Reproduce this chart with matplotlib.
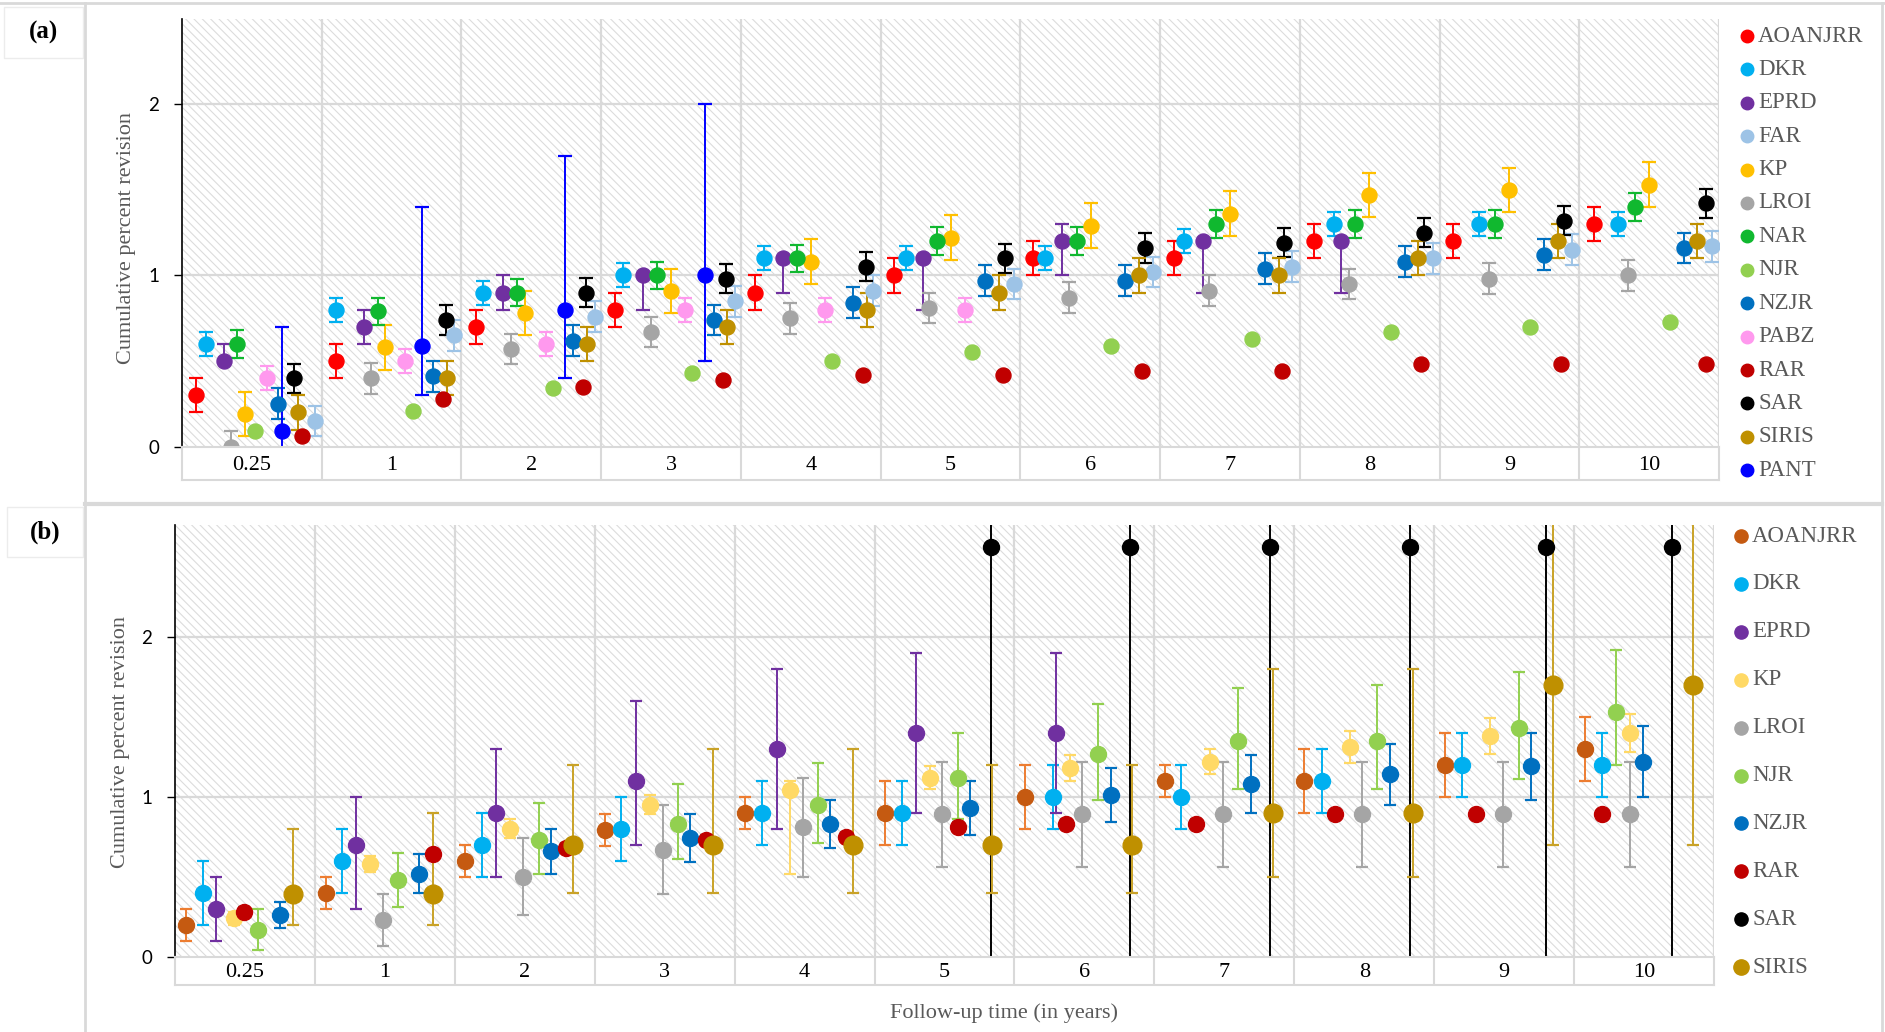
import matplotlib.pyplot as plt
from matplotlib.lines import Line2D
from matplotlib.patches import Rectangle

plt.rcParams['hatch.linewidth'] = 0.8

W, H = 1885, 1032
SERIF = 'Liberation Serif'
SANS = 'Lato'

years = ['0.25', '1', '2', '3', '4', '5', '6', '7', '8', '9', '10']

# ---------------- panel (a) ----------------
a_names = ['AOANJRR', 'DKR', 'EPRD', 'FAR', 'KP', 'LROI', 'NAR', 'NJR',
           'NZJR', 'PABZ', 'RAR', 'SAR', 'SIRIS', 'PANT']
a_colors = ['#FF0000', '#00B0F0', '#7030A0', '#9DC3E6', '#FFC000', '#A5A5A5',
            '#10B82F', '#92D050', '#0070C0', '#FF99EE', '#C00000', '#000000',
            '#BF9000', '#0000FF']

# position of each registry inside its year group (0 = left edge, 1 = right edge)
a_off = [
    [.097, .100, .107, .101, .101, .098, .093, .096, .101, .097, .104],
    [.173, .103, .153, .155, .166, .178, .178, .170, .248, .279, .278],
    [.301, .302, .297, .300, .300, .300, .297, .304, .296, None, None],
    [.953, .950, .953, .957, .948, .955, .952, .946, .950, .947, .948],
    [.449, .452, .452, .500, .500, .500, .505, .498, .496, .498, .500],
    [.353, .350, .356, .354, .351, .348, .348, .352, .349, .351, .347],
    [.391, .400, .400, .396, .400, .402, .403, .399, .397, .397, .400],
    [.525, .653, .653, .650, .651, .651, .652, .655, .649, .650, .647],
    [.685, .797, .797, .804, .804, .747, .748, .750, .750, .746, .746],
    [.605, .596, .607, .603, .603, .603, None, None, None, None, None],
    [.858, .871, .868, .871, .875, .875, .872, .872, .870, .867, .905],
    [.800, .887, .893, .894, .894, .891, .891, .888, .889, .888, .905],
    [.832, .900, .900, .900, .900, .849, .850, .850, .849, .845, .846],
    [.717, .718, .743, .740, None, None, None, None, None, None, None],
]
a_val = [
    [0.30, 0.50, 0.70, 0.80, 0.90, 1.00, 1.10, 1.10, 1.20, 1.20, 1.30],
    [0.60, 0.80, 0.90, 1.00, 1.10, 1.10, 1.10, 1.20, 1.30, 1.30, 1.30],
    [0.50, 0.70, 0.90, 1.00, 1.10, 1.10, 1.20, 1.20, 1.20, None, None],
    [0.15, 0.65, 0.76, 0.85, 0.91, 0.95, 1.02, 1.05, 1.10, 1.15, 1.17],
    [0.19, 0.58, 0.78, 0.91, 1.08, 1.22, 1.29, 1.36, 1.47, 1.50, 1.53],
    [0.00, 0.40, 0.57, 0.67, 0.75, 0.81, 0.87, 0.91, 0.95, 0.98, 1.00],
    [0.60, 0.79, 0.90, 1.00, 1.10, 1.20, 1.20, 1.30, 1.30, 1.30, 1.40],
    [0.09, 0.21, 0.34, 0.43, 0.50, 0.55, 0.59, 0.63, 0.67, 0.70, 0.73],
    [0.25, 0.41, 0.62, 0.74, 0.84, 0.97, 0.97, 1.04, 1.08, 1.12, 1.16],
    [0.40, 0.50, 0.60, 0.80, 0.80, 0.80, None, None, None, None, None],
    [0.06, 0.28, 0.35, 0.39, 0.42, 0.42, 0.44, 0.44, 0.48, 0.48, 0.48],
    [0.40, 0.74, 0.90, 0.98, 1.05, 1.10, 1.16, 1.19, 1.25, 1.32, 1.42],
    [0.20, 0.40, 0.60, 0.70, 0.80, 0.90, 1.00, 1.00, 1.10, 1.20, 1.20],
    [0.09, 0.59, 0.80, 1.00, None, None, None, None, None, None, None],
]
a_lo = [
    [0.10, 0.10, 0.10, 0.10, 0.10, 0.10, 0.10, 0.10, 0.10, 0.10, 0.10],
    [0.07, 0.07, 0.07, 0.07, 0.07, 0.07, 0.07, 0.07, 0.07, 0.07, 0.07],
    [0.00, 0.10, 0.10, 0.20, 0.20, 0.30, 0.20, 0.30, 0.30, None, None],
    [0.09, 0.09, 0.09, 0.09, 0.09, 0.09, 0.09, 0.09, 0.09, 0.09, 0.09],
    [0.13, 0.13, 0.13, 0.13, 0.13, 0.13, 0.13, 0.13, 0.13, 0.13, 0.13],
    [0.09, 0.09, 0.09, 0.09, 0.09, 0.09, 0.09, 0.09, 0.09, 0.09, 0.09],
    [0.08, 0.08, 0.08, 0.08, 0.08, 0.08, 0.08, 0.08, 0.08, 0.08, 0.08],
    [0, 0, 0, 0, 0, 0, 0, 0, 0, 0, 0],
    [0.09, 0.09, 0.09, 0.09, 0.09, 0.09, 0.09, 0.09, 0.09, 0.09, 0.09],
    [0.07, 0.07, 0.07, 0.07, 0.07, 0.07, None, None, None, None, None],
    [0, 0, 0, 0, 0, 0, 0, 0, 0, 0, 0],
    [0.085, 0.085, 0.085, 0.085, 0.085, 0.085, 0.085, 0.085, 0.085, 0.085, 0.085],
    [0.10, 0.10, 0.10, 0.10, 0.10, 0.10, 0.10, 0.10, 0.10, 0.10, 0.10],
    [0.60, 0.29, 0.40, 0.50, None, None, None, None, None, None, None],
]
a_hi = [
    [0.10, 0.10, 0.10, 0.10, 0.10, 0.10, 0.10, 0.10, 0.10, 0.10, 0.10],
    [0.07, 0.07, 0.07, 0.07, 0.07, 0.07, 0.07, 0.07, 0.07, 0.07, 0.07],
    [0.10, 0.10, 0.10, 0.00, 0.00, 0.00, 0.10, 0.00, 0.00, None, None],
    [0.09, 0.09, 0.09, 0.09, 0.09, 0.09, 0.09, 0.09, 0.09, 0.09, 0.09],
    [0.13, 0.13, 0.13, 0.13, 0.13, 0.13, 0.13, 0.13, 0.13, 0.13, 0.13],
    [0.09, 0.09, 0.09, 0.09, 0.09, 0.09, 0.09, 0.09, 0.09, 0.09, 0.09],
    [0.08, 0.08, 0.08, 0.08, 0.08, 0.08, 0.08, 0.08, 0.08, 0.08, 0.08],
    [0, 0, 0, 0, 0, 0, 0, 0, 0, 0, 0],
    [0.09, 0.09, 0.09, 0.09, 0.09, 0.09, 0.09, 0.09, 0.09, 0.09, 0.09],
    [0.07, 0.07, 0.07, 0.07, 0.07, 0.07, None, None, None, None, None],
    [0, 0, 0, 0, 0, 0, 0, 0, 0, 0, 0],
    [0.085, 0.085, 0.085, 0.085, 0.085, 0.085, 0.085, 0.085, 0.085, 0.085, 0.085],
    [0.10, 0.10, 0.10, 0.10, 0.10, 0.10, 0.10, 0.10, 0.10, 0.10, 0.10],
    [0.61, 0.81, 0.90, 1.00, None, None, None, None, None, None, None],
]

# ---------------- panel (b) ----------------
b_names = ['AOANJRR', 'DKR', 'EPRD', 'KP', 'LROI', 'NJR', 'NZJR', 'RAR', 'SAR', 'SIRIS']
b_colors = ['#C55A11', '#00B0F0', '#7030A0', '#FFD966', '#A5A5A5', '#92D050',
            '#0070C0', '#C00000', '#000000', '#BF9000']
b_bar_colors = ['#ED7D31', '#00B0F0', '#7030A0', '#FFD966', '#A5A5A5', '#92D050',
                '#0070C0', '#7F7F7F', '#000000', '#C9A227']

b_off = [
    [.080, .082, .074, .070, .073, .074, .078, .076, .073, .075, .077],
    [.197, .196, .195, .191, .198, .195, .279, .193, .195, .200, .198],
    [.296, .295, .291, .293, .303, .297, .295, None, None, None, None],
    [.423, .394, .393, .395, .398, .396, .397, .401, .398, .396, .398],
    [None, .486, .488, .490, .487, .485, .486, .490, .487, .489, .398],
    [.595, .594, .599, .595, .593, .594, .598, .601, .594, .604, .299],
    [.748, .744, .688, .681, .685, .683, .687, .691, .687, .690, .492],
    [.493, .845, .793, .793, .797, .594, .365, .299, .291, .297, .198],
    [None, None, None, None, None, .830, .827, .825, .826, .797, .698],
    [.846, .845, .848, .847, .845, .842, .843, .847, .848, .850, .853],
]
b_val = [
    [0.20, 0.40, 0.60, 0.79, 0.90, 0.90, 1.00, 1.10, 1.10, 1.20, 1.30],
    [0.40, 0.60, 0.70, 0.80, 0.90, 0.90, 1.00, 1.00, 1.10, 1.20, 1.20],
    [0.30, 0.70, 0.90, 1.10, 1.30, 1.40, 1.40, None, None, None, None],
    [0.24, 0.58, 0.80, 0.95, 1.04, 1.12, 1.18, 1.22, 1.31, 1.38, 1.40],
    [None, 0.23, 0.50, 0.67, 0.81, 0.89, 0.89, 0.89, 0.89, 0.89, 0.89],
    [0.17, 0.48, 0.73, 0.83, 0.95, 1.12, 1.27, 1.35, 1.35, 1.43, 1.53],
    [0.26, 0.52, 0.66, 0.74, 0.83, 0.93, 1.01, 1.08, 1.14, 1.19, 1.22],
    [0.28, 0.64, 0.68, 0.73, 0.75, 0.81, 0.83, 0.83, 0.89, 0.89, 0.89],
    [None, None, None, None, None, 2.56, 2.56, 2.56, 2.56, 2.56, 2.56],
    [0.39, 0.39, 0.70, 0.70, 0.70, 0.70, 0.70, 0.90, 0.90, 1.70, 1.70],
]
b_lo = [
    [0.10, 0.10, 0.10, 0.10, 0.10, 0.20, 0.20, 0.10, 0.20, 0.20, 0.20],
    [0.20, 0.20, 0.20, 0.20, 0.20, 0.20, 0.20, 0.20, 0.20, 0.20, 0.20],
    [0.20, 0.40, 0.40, 0.40, 0.50, 0.50, 0.50, None, None, None, None],
    [0.04, 0.05, 0.06, 0.06, 0.52, 0.07, 0.08, 0.08, 0.10, 0.11, 0.12],
    [None, 0.16, 0.24, 0.28, 0.31, 0.33, 0.33, 0.33, 0.33, 0.33, 0.33],
    [0.13, 0.17, 0.21, 0.22, 0.24, 0.26, 0.29, 0.30, 0.30, 0.32, 0.33],
    [0.08, 0.12, 0.14, 0.15, 0.15, 0.17, 0.17, 0.18, 0.19, 0.21, 0.22],
    [0.03, 0.03, 0.03, 0.03, 0.03, 0.03, 0.03, 0.03, 0.03, 0.03, 0.03],
    [None, None, None, None, None, 2.70, 2.70, 2.70, 2.70, 2.70, 2.70],
    [0.19, 0.19, 0.30, 0.30, 0.30, 0.30, 0.30, 0.40, 0.40, 1.00, 1.00],
]
b_hi = [
    [0.10, 0.10, 0.10, 0.10, 0.10, 0.20, 0.20, 0.10, 0.20, 0.20, 0.20],
    [0.20, 0.20, 0.20, 0.20, 0.20, 0.20, 0.20, 0.20, 0.20, 0.20, 0.20],
    [0.20, 0.30, 0.40, 0.50, 0.50, 0.50, 0.50, None, None, None, None],
    [0.04, 0.05, 0.06, 0.06, 0.06, 0.07, 0.08, 0.08, 0.10, 0.11, 0.12],
    [None, 0.16, 0.24, 0.28, 0.31, 0.33, 0.33, 0.33, 0.33, 0.33, 0.33],
    [0.13, 0.17, 0.23, 0.25, 0.26, 0.28, 0.31, 0.33, 0.35, 0.35, 0.39],
    [0.08, 0.12, 0.14, 0.15, 0.15, 0.17, 0.17, 0.18, 0.19, 0.21, 0.22],
    [0.03, 0.03, 0.03, 0.03, 0.03, 0.03, 0.03, 0.03, 0.03, 0.03, 0.03],
    [None, None, None, None, None, 0.40, 0.40, 0.40, 0.40, 0.40, 0.40],
    [0.41, 0.51, 0.50, 0.60, 0.60, 0.50, 0.50, 0.90, 0.90, 1.20, 1.20],
]

GRID = '#d9d9d9'


def fx(x):
    return x / W


def fy(y):
    return 1 - y / H


def draw_series(ax, offs, vals, lo, hi, color, bar_color, ms, cap):
    xs, ys = [], []
    for g, (o, v) in enumerate(zip(offs, vals)):
        if v is None:
            continue
        x = g + o
        xs.append(x)
        ys.append(v)
        l, h = lo[g], hi[g]
        if l or h:
            ax.vlines(x, v - l, v + h, color=bar_color, lw=1.4, zorder=3)
            ends = ([v - l] if l else []) + ([v + h] if h else [])
            ax.plot([x] * len(ends), ends, ls='none', marker='_', ms=cap,
                    mew=1.6, color=bar_color, zorder=3)
    ax.plot(xs, ys, ls='none', marker='o', ms=ms, color=color, zorder=4)


def setup_axes(ax, band, ymax):
    ax.set_xlim(0, 11)
    ax.set_ylim(0, ymax)
    # light diagonal texture behind the plot area
    ax.add_patch(Rectangle((0, 0), 1, 1, transform=ax.transAxes, facecolor='white',
                           edgecolor='#dcdcdc', hatch='\\\\\\\\', lw=0, zorder=0))
    for s in ['top', 'right', 'bottom']:
        ax.spines[s].set_visible(False)
    ax.spines['left'].set_color('black')
    ax.spines['left'].set_linewidth(1.2)
    ax.spines['left'].set_zorder(5)
    ax.set_xticks([])
    ax.set_yticks([0, 1, 2])
    ax.tick_params(axis='y', direction='out', length=5.5, width=1, pad=11,
                   labelsize=13.5, colors='black')
    for lab in ax.get_yticklabels():
        lab.set_family(SANS)
    for y in [1, 2]:
        ax.axhline(y, color=GRID, lw=1.6, zorder=1)
    for g in range(1, 12):
        ax.axvline(g, color=GRID, lw=1.6, zorder=1)

    band.set_xlim(0, 11)
    band.set_ylim(0, 1)
    band.set_xticks([])
    band.set_yticks([])
    for s in band.spines.values():
        s.set_color(GRID)
        s.set_linewidth(1.5)
    for g in range(1, 11):
        band.axvline(g, color=GRID, lw=1.5)
    for g, lab in enumerate(years):
        band.text(g + 0.5, 0.45, lab, ha='center', va='center', fontsize=16,
                  family=SERIF, color='black')


fig = plt.figure(figsize=(W / 100, H / 100), dpi=100)

ax_a = fig.add_axes([fx(182), fy(446.7), fx(1537), 428.2 / H])
band_a = fig.add_axes([fx(182), fy(480), fx(1537), 33.3 / H])
ax_b = fig.add_axes([fx(175), fy(956.7), fx(1539), 431.7 / H])
band_b = fig.add_axes([fx(175), fy(985), fx(1539), 28.3 / H])

setup_axes(ax_a, band_a, 2.5)
setup_axes(ax_b, band_b, 2.7)

for i in range(len(a_names)):
    draw_series(ax_a, a_off[i], a_val[i], a_lo[i], a_hi[i],
                a_colors[i], a_colors[i], 10.8, 9.4)

for i in range(len(b_names)):
    ms = 13.5 if b_names[i] == 'SIRIS' else 11.5
    draw_series(ax_b, b_off[i], b_val[i], b_lo[i], b_hi[i],
                b_colors[i], b_bar_colors[i], ms, 9.0)

# axis titles
fig.text(fx(126), fy(238), 'Cumulative percent revision', rotation=90, ha='center',
         va='center', fontsize=16, family=SERIF, color='#595959')
fig.text(fx(120), fy(742), 'Cumulative percent revision', rotation=90, ha='center',
         va='center', fontsize=16, family=SERIF, color='#595959')
fig.text(fx(1004), fy(1013), 'Follow-up time (in years)', ha='center', va='center',
         fontsize=16, family=SERIF, color='#595959')

# legends
for i, (name, c) in enumerate(zip(a_names, a_colors)):
    y = 36 + 33.4 * i
    fig.add_artist(Line2D([fx(1747)], [fy(y)], ls='none', marker='o', ms=9, color=c))
    fig.text(fx(1758), fy(y), name, ha='left', va='center', fontsize=16.5,
             family=SERIF, color='#595959')

for i, (name, c) in enumerate(zip(b_names, b_colors)):
    y = 536 + 47.9 * i
    ms = 11 if name == 'SIRIS' else 9.5
    fig.add_artist(Line2D([fx(1741)], [fy(y)], ls='none', marker='o', ms=ms, color=c))
    fig.text(fx(1752), fy(y), name, ha='left', va='center', fontsize=16.5,
             family=SERIF, color='#595959')

# panel tags
for tag, x0, y0, x1, y1 in [('(a)', 4, 7, 83, 58), ('(b)', 7, 507, 83, 557)]:
    fig.add_artist(Rectangle((fx(x0), fy(y1)), fx(x1 - x0), (y1 - y0) / H,
                             facecolor='white', edgecolor='#ececec', lw=1))
    fig.text(fx((x0 + x1) / 2), fy((y0 + y1) / 2), tag, ha='center', va='center',
             fontsize=18, fontweight='bold', family=SERIF)

# frame lines around the panels
frame = dict(color=GRID, lw=2)
fig.add_artist(Line2D([0, 1], [fy(3), fy(3)], **frame))
fig.add_artist(Line2D([fx(85), fx(85)], [fy(3), 0], **frame))
fig.add_artist(Line2D([fx(85), fx(1882)], [fy(504), fy(504)], color=GRID, lw=3))
fig.add_artist(Line2D([fx(1882), fx(1882)], [fy(3), 0], **frame))

fig.savefig('out.png', dpi=100)
